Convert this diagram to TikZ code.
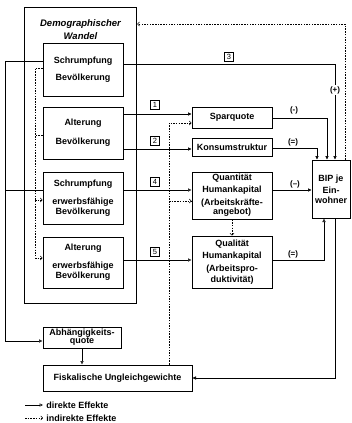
\documentclass[tikz,border=0pt]{standalone}
\usepackage{fontspec}
\setmainfont{Liberation Sans}
\usetikzlibrary{arrows.meta}
\begin{document}
\begin{tikzpicture}[x=1pt,y=-1pt,line width=0.6pt,
  box/.style={draw,line width=1pt,minimum width=80pt,inner sep=0pt,align=center,font=\fontsize{9}{10}\selectfont\bfseries},
  numbox/.style={draw,line width=0.5pt,minimum size=9pt,inner sep=0pt,font=\fontsize{7.5}{7.5}\selectfont},
  sign/.style={font=\fontsize{8}{8}\selectfont\bfseries,inner sep=1pt},
  ttl/.style={font=\fontsize{9.5}{10}\selectfont\bfseries\itshape,inner sep=0pt},
  lgd/.style={font=\fontsize{9}{10}\selectfont\bfseries,inner sep=0pt,anchor=west},
  arr/.style={-{Triangle[length=3.5pt,width=3.2pt]}},
  arro/.style={-{Triangle[open,length=3.5pt,width=3.2pt]}},
  darr/.style={dash pattern=on 1.5pt off 1.2pt,-{To[length=2.5pt,width=4.5pt]}},
  dln/.style={dash pattern=on 1.5pt off 1.2pt}]
\useasboundingbox (0,0) rectangle (351,423);

% outer frame
\node[draw,line width=1.5pt,minimum width=112pt,minimum height=296pt,inner sep=0pt] (dw) at (80.5,155.5) {};
\node[ttl] (t1) at (80.5,24) {Demographischer};
\node[ttl] (t2) at (80.5,36) {Wandel};

% boxes
\node[box,minimum height=53pt] (sb) at (83,69.5) {Schrumpfung\\[7pt]Bevölkerung};
\node[box,minimum height=52pt] (ab) at (83,133) {Alterung\\[9pt]Bevölkerung};
\node[box,minimum height=52pt] (se) at (83,198) {Schrumpfung\\[8pt]erwerbsfähige\\[0pt]Bevölkerung};
\node[box,minimum height=51pt] (ae) at (83,262.5) {Alterung\\[8pt]erwerbsfähige\\[0pt]Bevölkerung};
\node[box,minimum height=21pt] (sq) at (232,117.5) {Sparquote};
\node[box,minimum height=18pt] (ks) at (232,147.5) {Konsumstruktur};
\node[box,minimum height=47pt] (qn) at (232,195.5) {Quantität\\[2pt]Humankapital\\[3pt](Arbeitskräfte-\\[-1pt]angebot)};
\node[box,minimum height=52pt] (ql) at (232,262) {Qualität\\[2pt]Humankapital\\[3pt](Arbeitspro-\\[1pt]duktivität)};
\node[box,minimum width=38pt,minimum height=58pt] (bip) at (331,189) {BIP je\\[2pt]Ein-\\[0pt]wohner};
\node[box,minimum width=78pt,minimum height=21pt,font=\fontsize{9}{8}\selectfont\bfseries] (abq) at (82,337.5) {Abhängigkeits-\\quote};
\node[box,minimum width=149pt,minimum height=26pt] (fi) at (117.5,378) {Fiskalische Ungleichgewichte};

% left solid connectors
\draw[arro] (sb.west |- 0,61) -- (5,61) -- (5,341) -- (abq.west |- 0,341);
\coordinate (lx) at (5,190);
\draw (lx) -- (se.west |- 0,190);
\draw[arro] (abq.south) -- (fi.north -| abq.south);

% left dashed connectors
\draw[dln] (sb.west |- 0,68) -- (35,68) -- (35,258);
\draw[darr] (35,258) -- (ae.west |- 0,258);
\draw[dln] (ab.west |- 0,135) -- (35,135);
\draw[darr] (35,200) -- (se.west |- 0,200);

% numbered effects
\draw[arr] (sb.east |- 0,64) -- (335,64) -- (bip.north -| 335,0);
\node[numbox] (n3) at (229,57) {3};
\node[sign,fill=white] (s3) at (335,90) {(+)};
\draw[arr] (ab.east |- 0,114) -- (sq.west |- 0,114);
\node[numbox] (n1) at (155,105) {1};
\draw[arr] (ab.east |- 0,149) -- (ks.west |- 0,149);
\node[numbox] (n2) at (155,141) {2};
\draw[arro] (se.east |- 0,190) -- (qn.west |- 0,190);
\node[numbox] (n4) at (155,182) {4};
\draw[arro] (ae.east |- 0,260) -- (ql.west |- 0,260);
\node[numbox] (n5) at (155,252) {5};

% fiscal feedback dashed
\draw[darr] (fi.north -| 169,0) -- (169,123) -- (sq.west |- 0,123);
\draw[darr] (169,201) -- (qn.west |- 0,201);
\draw[darr] (qn.south) -- (ql.north);

% into BIP
\draw[arr] (sq.east |- 0,118) -- (327,118) -- (bip.north -| 327,0);
\node[sign] (s1) at (294,110) {(-)};
\draw[arr] (ks.east |- 0,148) -- (317,148) -- (bip.north -| 317,0);
\node[sign] (s2) at (293,142) {(=)};
\draw[arr] (qn.east |- 0,190) -- (bip.west |- 0,190);
\node[sign] (s4) at (295,184) {(--)};
\draw[arro] (ql.east |- 0,260) -- (324,260) -- (bip.south -| 324,0);
\node[sign] (s5) at (293,254) {(=)};

% BIP outgoing
\draw[arr] (bip.south -| 335,0) -- (335,378) -- (fi.east);
\draw[darr] (bip.north -| 345,0) -- (345,24) -- (dw.east |- 0,24);

% legend
\coordinate (l1a) at (25,405); \coordinate (l1b) at (43,405);
\draw[arro] (l1a) -- (l1b);
\node[lgd] (lt1) at (46,405) {direkte Effekte};
\coordinate (l2a) at (25,418); \coordinate (l2b) at (43,418);
\draw[darr] (l2a) -- (l2b);
\node[lgd] (lt2) at (46,418) {indirekte Effekte};
\end{tikzpicture}
\end{document}
